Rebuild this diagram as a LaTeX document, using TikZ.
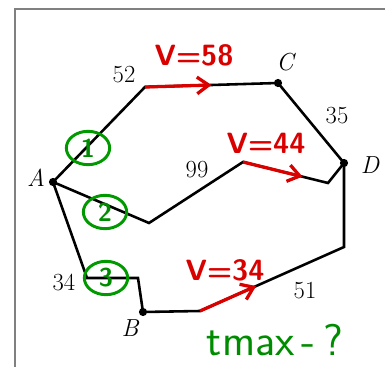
\documentclass[tikz,border=0pt]{standalone}
\usepackage{fontspec}
\usepackage{tikz}
\usetikzlibrary{arrows.meta,positioning,calc,shapes.geometric}

\begin{document}
\begin{tikzpicture}[x=0.03cm, y=-0.03cm,
        road/.style={line width=2.2pt, line join=miter},
        pt/.style={circle, fill, inner sep=0pt, minimum size=7pt},
        vel/.style={red!85!black, line width=2.8pt, -{Straight Barb[length=3.5mm,width=5mm]}},
        vlab/.style={red!85!black, font=\sffamily\bfseries\fontsize{25}{28}\selectfont},
        dist/.style={font=\fontsize{21}{24}\selectfont},
        ptlab/.style={font=\itshape\fontsize{21}{24}\selectfont},
        tag/.style={ellipse, draw=green!60!black, line width=2.5pt, text=green!55!black,
                    minimum width=1.3cm, minimum height=1cm, inner sep=0pt,
                    font=\sffamily\bfseries\fontsize{22}{24}\selectfont}
      ]
        \useasboundingbox (0,0) rectangle (385,367);
        \draw[gray, line width=1pt] (15,367) -- (15,9) -- (385,9);

        % Punkte
        \node[pt] (A) at (53,182) {};
        \node[pt] (B) at (143,312) {};
        \node[pt] (C) at (278,83) {};
        \node[pt] (D) at (344,163) {};
        \coordinate (u1) at (145,87);
        \coordinate (m1) at (149,223);
        \coordinate (m2) at (243,162);
        \coordinate (m3) at (328,183);
        \coordinate (b1) at (87,278);
        \coordinate (b2) at (138,278);
        \coordinate (b3) at (200,311);
        \coordinate (b4) at (344,247);

        % Wege
        \draw[road] (A.center) -- (u1) -- (C.center) -- (D.center);
        \draw[road] (A.center) -- (m1) -- (m2) -- (m3) -- (D.center);
        \draw[road] (A.center) -- (b1) -- (b2) -- (B.center) -- (b3) -- (b4) -- (D.center);

        % Geschwindigkeiten
        \draw[vel] (u1) -- ($(u1)!0.5!(C)$);
        \draw[vel] (m2) -- ($(m2)!0.7!(m3)$);
        \draw[vel] (b3) -- ($(b3)!0.39!(b4)$);
        \node[vlab] (v1) at (194,55) {V=58};
        \node[vlab] (v2) at (266,143) {V=44};
        \node[vlab] (v3) at (225,270) {V=34};

        % Namen und Laengen
        \node[ptlab] at (36,178) {A};
        \node[ptlab] at (130,328) {B};
        \node[ptlab] at (285,62) {C};
        \node[ptlab] at (370,165) {D};
        \node[dist] at (124,75) {52};
        \node[dist] at (337,116) {35};
        \node[dist] at (197,170) {99};
        \node[dist] at (64,282) {34};
        \node[dist] at (305,291) {51};

        % Nummern
        \node[tag] (n1) at (88,148) {1};
        \node[tag] (n2) at (105,212) {2};
        \node[tag] (n3) at (106,278) {3};
        \node[green!55!black, font=\sffamily\fontsize{38}{40}\selectfont] (tm) at (275,340) {tmax\,-\,?};
\end{tikzpicture}
\end{document}
